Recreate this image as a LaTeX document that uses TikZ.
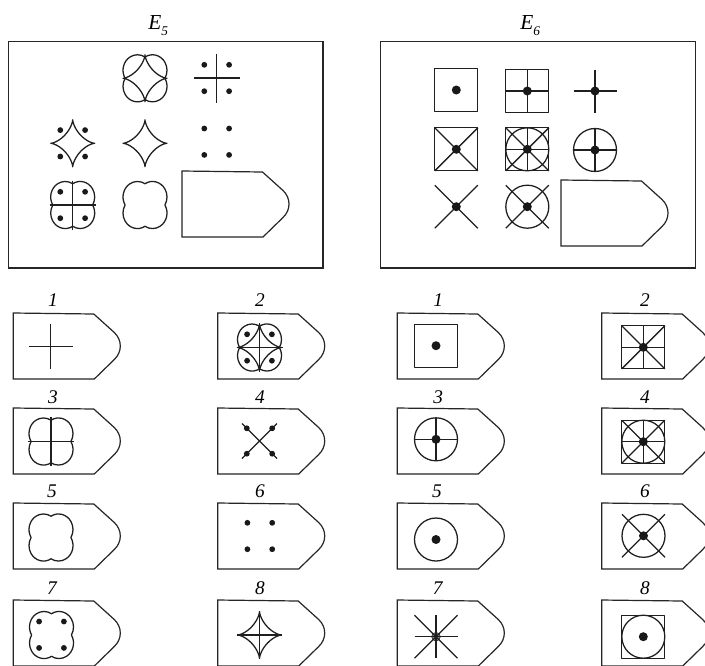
\documentclass[tikz,border=0pt]{standalone}
\usepackage{fontspec}
\setmainfont{Liberation Serif}
\begin{document}
\begin{tikzpicture}[x=0.75pt,y=-0.75pt,
  fl/.style={line width=0.95pt,line join=round,draw=black!88},
  boxl/.style={line width=0.9pt,draw=black!85},
  lab/.style={font=\itshape\fontsize{14.5}{16}\selectfont,inner sep=0pt},
  elab/.style={font=\itshape\fontsize{16}{18}\selectfont,inner sep=0pt,anchor=base west},
  pics/lobed/.style={code={\draw[fl,yscale=1.07] (19.91,0)
      arc[start angle=-31.15,end angle=121.15,radius=14.5]
      arc[start angle=58.85,end angle=211.15,radius=14.5]
      arc[start angle=148.85,end angle=301.15,radius=14.5]
      arc[start angle=238.85,end angle=391.15,radius=14.5] -- cycle;}},
  pics/astroid/.style={code={\draw[fl,yscale=1.07] plot[domain=0:360,samples=181,variable=\t]
      ({22*cos(\t)*cos(\t)*cos(\t)},{22*sin(\t)*sin(\t)*sin(\t)}) -- cycle;}},
  pics/crossE/.style={code={\draw[fl] (-23,0) -- (23,0) (0,-24.5) -- (0,24.5);}},
  pics/dotsE/.style={code={\foreach \a in {-1,1}{\foreach \b in {-1,1}{\fill[black!90] (12.4*\a,13.2*\b) circle[radius=2.9];}}}},
  pics/xdots/.style={code={\draw[fl] (-17.5,-17.5) -- (17.5,17.5) (-17.5,17.5) -- (17.5,-17.5);
      \foreach \a in {-1,1}{\foreach \b in {-1,1}{\fill[black!90] (12.7*\a,12.7*\b) circle[radius=2.9];}}}},
  pics/sq/.style={code={\draw[fl] (-21.5,-21.5) rectangle (21.5,21.5);}},
  pics/pl/.style={code={\draw[fl] (-21.5,0) -- (21.5,0) (0,-21.5) -- (0,21.5);}},
  pics/xx/.style={code={\draw[fl] (-21.5,-21.5) -- (21.5,21.5) (-21.5,21.5) -- (21.5,-21.5);}},
  pics/ci/.style={code={\draw[fl] (0,0) circle[radius=21.5];}},
  pics/dt/.style={code={\fill[black!90] (0,0) circle[radius=4.5];}},
  pics/gdt/.style={code={\filldraw[fill=black!45,draw=black!80,line width=0.5pt] (0,0) circle[radius=4.3];}},
  pics/tag/.style={code={\draw[boxl] (0,0) -- (80.5,1) -- (101,19.5)
      .. controls (109,27) and (109,39) .. (101,46.5) -- (81,66) -- (0,66) -- cycle;}}
]
\clip (0,0) rectangle (705,665);
\fill[white] (0,0) rectangle (705,665);

% ---------- E5 ----------
\node[elab] (e5) at (148,29.3) {E\raisebox{-4.5pt}{\fontsize{10}{12}\selectfont 5}};
\draw[boxl] (8.3,41.7) rectangle (323,268);
% row 1
\pic at (145,78.3) {lobed};
\pic at (145,78.3) {astroid};
\pic at (216.7,78) {crossE};
\pic at (216.7,78) {dotsE};
% row 2
\pic at (72.7,143.3) {astroid};
\pic at (72.7,143.3) {dotsE};
\pic at (145,143.3) {astroid};
\pic at (216.7,141.7) {dotsE};
% row 3
\pic at (72.7,205) {lobed};
\pic at (72.7,205) {crossE};
\pic at (72.7,205) {dotsE};
\pic at (145,205) {lobed};
\pic at (182,171) {tag};

% ---------- E6 ----------
\node[elab] (e6) at (520,29.3) {E\raisebox{-4.5pt}{\fontsize{10}{12}\selectfont 6}};
\draw[boxl] (380.7,41.7) rectangle (695.7,268);
% row 1
\pic at (456.3,90) {sq};
\pic at (456.3,90) {dt};
\pic at (527.3,91) {sq};
\pic at (527.3,91) {pl};
\pic at (527.3,91) {dt};
\pic at (595,91) {pl};
\pic at (595,91) {dt};
% row 2
\pic at (456.3,149.3) {sq};
\pic at (456.3,149.3) {xx};
\pic at (456.3,149.3) {dt};
\pic at (527.3,149.3) {sq};
\pic at (527.3,149.3) {xx};
\pic at (527.3,149.3) {pl};
\pic at (527.3,149.3) {ci};
\pic at (527.3,149.3) {dt};
\pic at (595,150) {ci};
\pic at (595,150) {pl};
\pic at (595,150) {dt};
% row 3
\pic at (456.3,206.7) {xx};
\pic at (456.3,206.7) {dt};
\pic at (527.3,206.7) {ci};
\pic at (527.3,206.7) {xx};
\pic at (527.3,206.7) {dt};
\pic at (561,180) {tag};

% ---------- answer frames ----------
\foreach \L in {13.3,217.7,397.3,601.7}{
  \foreach \T in {313,408,503,600}{
    \pic at (\L,\T) {tag};
  }
}

% ---------- left answers (E5) ----------
\node[lab] (a1) at (53,300) {1};
\node[lab] (a2) at (260,300) {2};
\node[lab] (a3) at (53,397) {3};
\node[lab] (a4) at (260,397) {4};
\node[lab] (a5) at (52,491) {5};
\node[lab] (a6) at (260,491) {6};
\node[lab] (a7) at (52,588) {7};
\node[lab] (a8) at (260,588) {8};

\draw[fl] (28.5,346.7) -- (72.5,346.7) (50.7,324.2) -- (50.7,369.2);
\pic at (259.5,347.5) {lobed};
\pic at (259.5,347.5) {astroid};
\pic at (259.5,347.5) {crossE};
\pic at (259.5,347.5) {dotsE};
\pic at (51,441.5) {lobed};
\pic at (51,441.5) {crossE};
\pic at (259.5,441) {xdots};
\pic at (51,537.5) {lobed};
\pic at (259.8,536) {dotsE};
\pic at (51.5,635) {lobed};
\pic at (51.5,634.7) {dotsE};
\pic at (259.5,635) {astroid};
\draw[fl] (237.3,635) -- (281.7,635) (259.5,611.5) -- (259.5,658.5);

% ---------- right answers (E6) ----------
\node[lab] (b1) at (438.3,300) {1};
\node[lab] (b2) at (645,300) {2};
\node[lab] (b3) at (438.3,397) {3};
\node[lab] (b4) at (645,397) {4};
\node[lab] (b5) at (437,491) {5};
\node[lab] (b6) at (645,491) {6};
\node[lab] (b7) at (437.7,588) {7};
\node[lab] (b8) at (645,588) {8};

\pic at (436,345.7) {sq};
\pic at (436,345.7) {dt};
\pic at (643.3,347.3) {sq};
\pic at (643.3,347.3) {xx};
\pic at (643.3,347.3) {pl};
\pic at (643.3,347.3) {dt};
\pic at (436,439.3) {ci};
\pic at (436,439.3) {pl};
\pic at (436,439.3) {dt};
\pic at (643.3,441.7) {sq};
\pic at (643.3,441.7) {ci};
\pic at (643.3,441.7) {xx};
\pic at (643.3,441.7) {pl};
\pic at (643.3,441.7) {dt};
\pic at (436,539.5) {ci};
\pic at (436,539.5) {dt};
\pic at (643.5,535.8) {ci};
\pic at (643.5,535.8) {xx};
\pic at (643.5,535.8) {dt};
\pic at (436,636.7) {gdt};
\pic at (436,636.7) {xx};
\pic at (436,636.7) {pl};
\pic at (643.3,636.7) {sq};
\pic at (643.3,636.7) {ci};
\pic at (643.3,636.7) {dt};
\end{tikzpicture}
\end{document}
